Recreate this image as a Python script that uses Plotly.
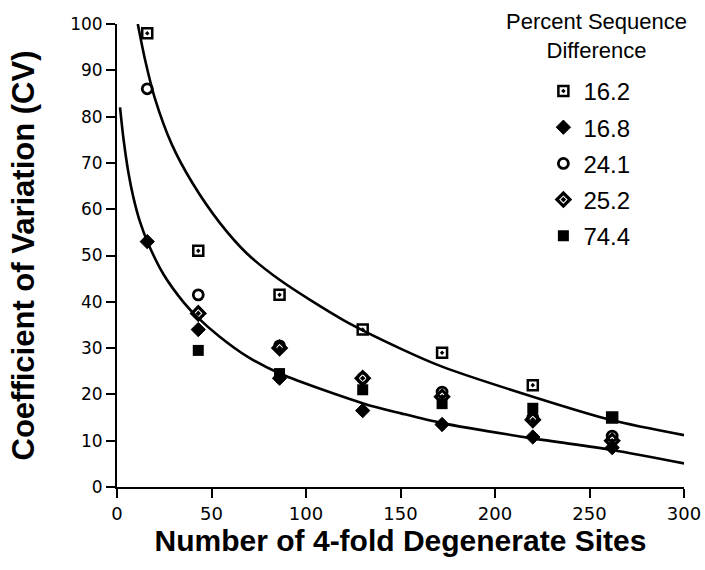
import plotly.graph_objects as go

# Data
sites = [16, 43, 86, 130, 172, 220, 262]
series_names = ["16.2", "16.8", "24.1", "25.2", "74.4"]
cv_162 = [98, 51, 41.5, 34, 29, 22, 15]
cv_168 = [53, 34, 23.5, 16.5, 13.5, 10.8, 8.5]
cv_241 = [86, 41.5, 30.5, 23.5, 20.5, 15, 11]
cv_252 = [None, 37.5, 30, 23.5, 19.5, 14.5, 10]
cv_744 = [None, 29.5, 24.5, 21, 18, 17, 15]

# Fitted curves
upper_x = [11, 15, 20, 29, 40, 54.5, 68.6, 86.2, 120, 150, 172, 220, 262, 300]
upper_y = [100, 92, 84, 74, 65.6, 57, 50.5, 44.7, 36, 29.9, 26, 19.5, 14.4, 11.2]
lower_x = [1.6, 3.5, 6, 8.7, 12, 16.6, 24.5, 35.6, 42.2, 54.5, 69.2, 86.8, 130.7, 150.3, 172, 220, 262, 300]
lower_y = [82, 75, 68, 62.5, 57.5, 52.5, 46, 39.7, 36.8, 32.4, 28.1, 24.4, 18, 15.9, 13.8, 10.5, 8, 5.1]

x_ticks = [0, 50, 100, 150, 200, 250, 300]
y_ticks = [0, 10, 20, 30, 40, 50, 60, 70, 80, 90, 100]

fig = go.Figure()
for cx, cy in [(upper_x, upper_y), (lower_x, lower_y)]:
    fig.add_trace(go.Scatter(x=cx, y=cy, mode="lines", showlegend=False,
                             line=dict(color="black", width=2.6, shape="spline", smoothing=0.8),
                             hoverinfo="skip"))

styles = [
    dict(symbol="square-open-dot", size=10, line=dict(color="black", width=2.5)),
    dict(symbol="diamond", size=11, color="black", line=dict(color="black", width=1)),
    dict(symbol="circle-open", size=10, line=dict(color="black", width=2.8)),
    dict(symbol="diamond-open-dot", size=10, line=dict(color="black", width=3.2)),
    dict(symbol="square", size=11, color="black", line=dict(color="black", width=0)),
]
for name, vals, st in zip(series_names, [cv_162, cv_168, cv_241, cv_252, cv_744], styles):
    mk = dict(st)
    mk.setdefault("color", "black")
    fig.add_trace(go.Scatter(x=sites, y=vals, mode="markers", name=name,
                             legendgroup=name, marker=mk))

axis_common = dict(showline=True, linecolor="black", linewidth=2, ticks="outside",
                   ticklen=9, tickwidth=2, tickcolor="black", showgrid=False,
                   zeroline=False, mirror=False, automargin=False)

fig.update_layout(
    width=705, height=570,
    margin=dict(l=117, r=21, t=24, b=83, autoexpand=False),
    paper_bgcolor="white", plot_bgcolor="white",
    hovermode=False,
    font=dict(family="Liberation Sans, Arial, sans-serif", color="black"),
    xaxis=dict(range=[0, 300], tickvals=x_ticks,
               tickfont=dict(family="DejaVu Sans", size=18),
               title=dict(text="<b>Number of 4-fold Degenerate Sites</b>",
                          font=dict(size=30), standoff=3),
               **axis_common),
    yaxis=dict(range=[0, 100], tickvals=y_ticks,
               tickfont=dict(family="DejaVu Sans", size=17),
               title=dict(text="<b>Coefficient of Variation (CV)</b>",
                          font=dict(size=31), standoff=26),
               **axis_common),
    legend=dict(x=0.752, y=0.903, xanchor="left", yanchor="top",
                font=dict(size=24), tracegroupgap=2, itemwidth=30,
                bgcolor="rgba(0,0,0,0)"),
    annotations=[dict(text="Percent Sequence<br>Difference", xref="paper", yref="paper",
                      x=0.845, y=1.036, xanchor="center", yanchor="top", showarrow=False,
                      font=dict(size=22), align="center")],
    showlegend=True,
)

fig.write_html("out.html", config={"displayModeBar": False, "staticPlot": True},
               post_script="document.body.style.margin='0';")
